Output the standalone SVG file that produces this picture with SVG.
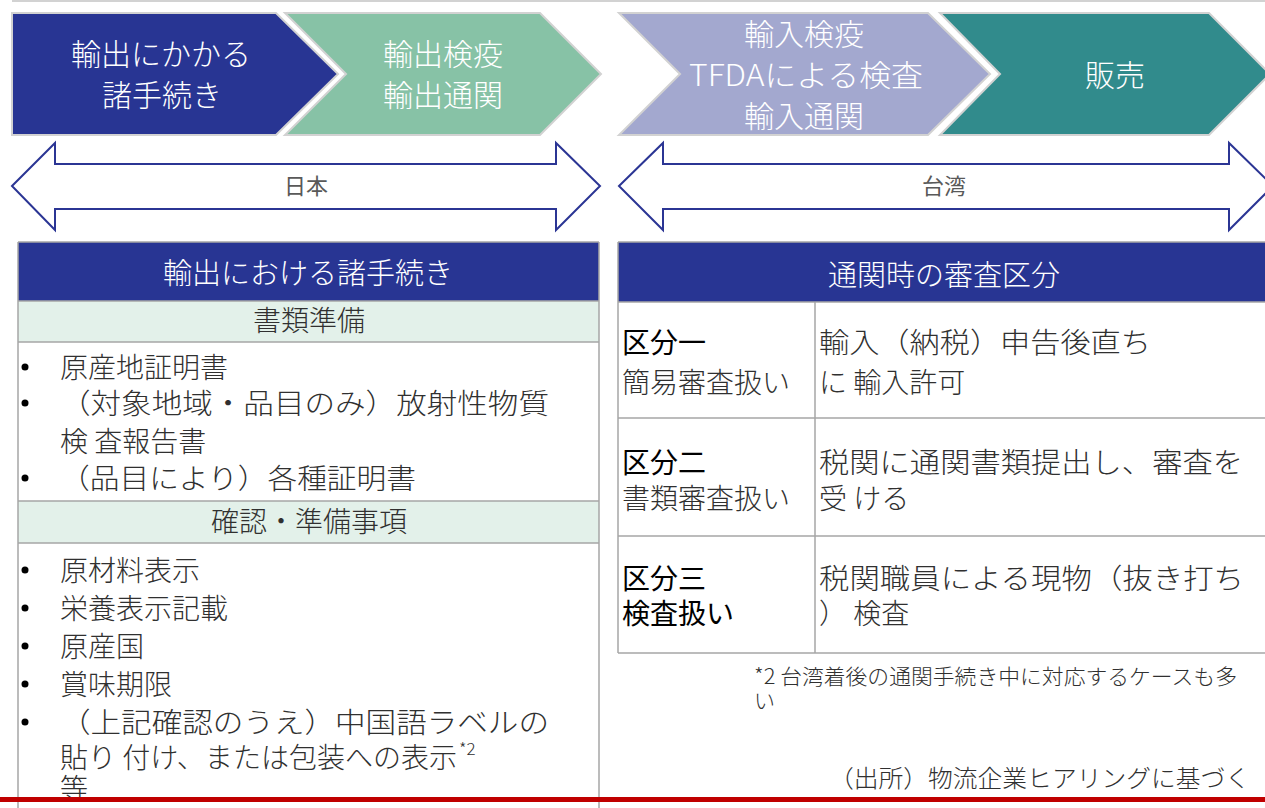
<svg xmlns="http://www.w3.org/2000/svg" width="1265" height="808" viewBox="0 0 1265 808">
<style>
  text { font-family: "Noto Sans CJK JP", "Noto Sans", sans-serif; }
  .chev { stroke: #d2d2d2; stroke-width: 2; }
  .chevtxt { fill: #ffffff; font-size: 30px; font-weight: 300; text-anchor: middle; }
  .span { fill: #ffffff; stroke: #2b3594; stroke-width: 2; stroke-linejoin: miter; }
  .spantxt { fill: #595959; font-size: 22px; text-anchor: middle; }
  .hdr { fill: #283593; }
  .hdrtxt { fill: #ffffff; font-size: 29px; font-weight: 300; text-anchor: middle; }
  .sub { fill: #e3f1ea; }
  .subtxt { fill: #303030; font-size: 28px; font-weight: 300; text-anchor: middle; }
  .grid { stroke: #a6a6a6; stroke-width: 1.5; fill: none; }
  .body { fill: #303030; font-size: 28px; font-weight: 300; }
  .strong { fill: #000000; font-size: 28px; }
  .note { fill: #303030; font-size: 21px; font-weight: 300; }
</style>

<line x1="12" y1="1" x2="1265" y2="1" stroke="#d2d2d2" stroke-width="2"/>

<g id="step-export-procedures">
  <path class="chev" d="M12,13 L276,13 L338,74 L276,135 L12,135 Z" fill="#283593"/>
  <text class="chevtxt" x="161" y="65">輸出にかかる</text>
  <text class="chevtxt" x="162" y="106">諸手続き</text>
</g>
<g id="step-export-clearance">
  <path class="chev" d="M285,13 L540,13 L601,74 L540,135 L285,135 L346,74 Z" fill="#87c2a6"/>
  <text class="chevtxt" x="443" y="65">輸出検疫</text>
  <text class="chevtxt" x="443" y="106">輸出通関</text>
</g>
<g id="step-import-clearance">
  <path class="chev" d="M619,13 L928,13 L990,74 L928,135 L619,135 L680,74 Z" fill="#a3a8cf"/>
  <text class="chevtxt" x="804" y="45">輸入検疫</text>
  <text class="chevtxt" x="806" y="86" textLength="234" lengthAdjust="spacingAndGlyphs">TFDAによる検査</text>
  <text class="chevtxt" x="804" y="127">輸入通関</text>
</g>
<g id="step-sales">
  <path class="chev" d="M940,13 L1209,13 L1270,74 L1209,135 L940,135 L1000,74 Z" fill="#318b8c"/>
  <text class="chevtxt" x="1115" y="86">販売</text>
</g>

<g id="connectors">
  <g id="span-japan">
    <path class="span" d="M12,186 L55,143 L55,164 L556,164 L556,143 L600,186 L556,230 L556,209 L55,209 L55,230 Z"/>
    <text class="spantxt" x="306" y="194">日本</text>
  </g>
  <g id="span-taiwan">
    <path class="span" d="M619,186 L663,143 L663,164 L1229,164 L1229,143 L1273,186 L1229,230 L1229,209 L663,209 L663,230 Z"/>
    <text class="spantxt" x="944" y="194">台湾</text>
  </g>
</g>

<g id="table-export">
  <rect class="hdr" x="18" y="242" width="581" height="59"/>
  <rect class="sub" x="18" y="301" width="581" height="41"/>
  <rect fill="#ffffff" x="18" y="342" width="581" height="159"/>
  <rect class="sub" x="18" y="501" width="581" height="42"/>
  <rect fill="#ffffff" x="18" y="543" width="581" height="265"/>
  <path class="grid" d="M18,242 H599 M18,301 H599 M18,342 H599 M18,501 H599 M18,543 H599 M18,242 V808 M599,242 V808"/>
  <text class="hdrtxt" x="308" y="284">輸出における諸手続き</text>
  <text class="subtxt" x="309" y="331">書類準備</text>
  <g fill="#000000">
    <circle cx="25" cy="367" r="3.5"/>
    <circle cx="25" cy="403" r="3.5"/>
    <circle cx="25" cy="478" r="3.5"/>
    <circle cx="25" cy="570" r="3.5"/>
    <circle cx="25" cy="608" r="3.5"/>
    <circle cx="25" cy="646" r="3.5"/>
    <circle cx="25" cy="684" r="3.5"/>
    <circle cx="25" cy="722" r="3.5"/>
  </g>
  <text class="body" x="60" y="378">原産地証明書</text>
  <text class="body" x="60" y="414" textLength="489" lengthAdjust="spacingAndGlyphs">（対象地域・品目のみ）放射性物質</text>
  <text class="body" x="60" y="452">検 査報告書</text>
  <text class="body" x="60" y="489" textLength="356" lengthAdjust="spacingAndGlyphs">（品目により）各種証明書</text>
  <text class="subtxt" x="309" y="532">確認・準備事項</text>
  <text class="body" x="60" y="581">原材料表示</text>
  <text class="body" x="60" y="619">栄養表示記載</text>
  <text class="body" x="60" y="657">原産国</text>
  <text class="body" x="60" y="695">賞味期限</text>
  <text class="body" x="60" y="733" textLength="489" lengthAdjust="spacingAndGlyphs">（上記確認のうえ）中国語ラベルの</text>
  <text class="body" x="60" y="768" textLength="397" lengthAdjust="spacingAndGlyphs">貼り 付け、または包装への表示</text>
  <text class="body" x="459" y="755" style="font-size:17px">*2</text>
  <text class="body" x="60" y="799">等</text>
</g>

<g id="table-customs">
  <rect class="hdr" x="618" y="242" width="660" height="60"/>
  <rect fill="#ffffff" x="618" y="302" width="660" height="351"/>
  <path class="grid" d="M618,242 H1278 M618,302 H1278 M618,418 H1278 M618,536 H1278 M618,653 H1278 M618,242 V653 M815,302 V653"/>
  <text class="hdrtxt" x="944" y="286">通関時の審査区分</text>
  <g id="row-1">
    <text class="strong" x="622" y="353">区分一</text>
    <text class="body" x="622" y="393">簡易審査扱い</text>
    <text class="body" x="819" y="353" textLength="332" lengthAdjust="spacingAndGlyphs">輸入（納税）申告後直ち</text>
    <text class="body" x="819" y="393">に 輸入許可</text>
  </g>
  <g id="row-2">
    <text class="strong" x="622" y="473">区分二</text>
    <text class="body" x="622" y="509">書類審査扱い</text>
    <text class="body" x="819" y="473" textLength="424" lengthAdjust="spacingAndGlyphs">税関に通関書類提出し、審査を</text>
    <text class="body" x="819" y="509">受 ける</text>
  </g>
  <g id="row-3">
    <text class="strong" x="622" y="589">区分三</text>
    <text class="strong" x="622" y="624">検査扱い</text>
    <text class="body" x="819" y="589" textLength="425" lengthAdjust="spacingAndGlyphs">税関職員による現物（抜き打ち</text>
    <text class="body" x="819" y="624">） 検査</text>
  </g>
</g>

<g id="notes">
  <text class="note" x="754" y="684" textLength="483" lengthAdjust="spacingAndGlyphs">*2 台湾着後の通関手続き中に対応するケースも多</text>
  <text class="note" x="754" y="708">い</text>
  <text class="note" x="829" y="787" style="font-size:24px" textLength="421" lengthAdjust="spacingAndGlyphs">（出所）物流企業ヒアリングに基づく</text>
</g>

<rect x="0" y="797" width="1265" height="5" fill="#c00000"/>
</svg>
